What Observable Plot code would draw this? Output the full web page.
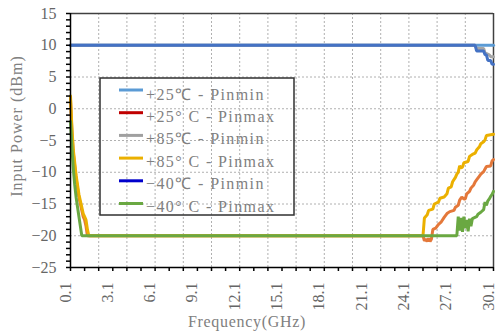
<!DOCTYPE html>
<html>
<head>
<meta charset="utf-8">
<script src="https://cdn.jsdelivr.net/npm/d3@7"></script>
<script src="https://cdn.jsdelivr.net/npm/@observablehq/plot@0.6"></script>
<style>
  body { margin: 0; background: #fff; }
  svg { display: block; }
</style>
</head>
<body>
<div id="chart"></div>
<script>
// Series names, in drawing order (later series are drawn on top)
const seriesNames = [
  "+25℃ - Pinmin",
  "+25° C - Pinmax",
  "+85℃ - Pinmin",
  "+85° C - Pinmax",
  "−40℃ - Pinmin",
  "−40° C - Pinmax"
];
// Line colours as plotted, and the colours shown in the legend keys
const lineColors   = ["#5b9bd5", "#e4783a", "#a5a5a5", "#ebb000", "#4472c4", "#6aa842"];
const legendColors = ["#5b9bd5", "#c00000", "#a0a0a0", "#ebb000", "#0000cc", "#6aa842"];

// Frequency (GHz) / input power (dBm) measurements per series
const pinmin25F = [0.1, 30.1];
const pinmin25V = [10, 10];

const pinmax25F = [0.1, 0.2, 0.3, 0.4, 0.5, 0.6, 0.7, 0.8, 0.9, 1.0, 1.1, 1.2, 1.3,
  25.1, 25.2, 25.3, 25.4, 25.5, 25.6, 25.7, 25.8, 26.0, 26.2, 26.4, 26.6, 26.8,
  27.0, 27.3, 27.4, 27.6, 27.7, 27.85, 28.0, 28.1, 28.2, 28.4, 28.5, 28.7, 28.8, 28.9, 29.1,
  29.2, 29.4, 29.5, 29.6, 29.9, 30.0, 30.1];
const pinmax25V = [1.5, -3.5, -7, -9, -11, -12.5, -14, -15, -16, -17, -17.5, -18.5, -20,
  -20, -20.8, -20.5, -20.9, -20.4, -20.9, -20.5, -19, -18.8, -18.2, -17.8, -17.1, -16.5,
  -16.2, -16, -15.5, -15.2, -14.4, -13.9, -14.2, -14.2, -13.4, -13, -12.5, -12, -11.5, -11.2, -10.6,
  -10.3, -9.9, -9.5, -9.1, -9, -8.2, -8];

const pinmin85F = [0.1, 28.8, 28.9, 29.4, 29.5, 29.8, 29.9, 30.1];
const pinmin85V = [10, 10, 9.5, 9.5, 8.8, 8.5, 8.2, 8.2];

const pinmax85F = [0.1, 0.2, 0.3, 0.4, 0.5, 0.6, 0.7, 0.8, 0.9, 1.0, 1.1, 1.2, 1.3, 1.4,
  25.1, 25.2, 25.4, 25.5, 25.8, 25.9, 26.2, 26.3, 26.6, 26.8, 26.9, 27.1, 27.2,
  27.4, 27.5, 27.6, 27.7, 27.8, 27.9, 28.0, 28.3, 28.4, 28.6, 28.8, 28.9, 29.1, 29.2, 29.4, 29.5,
  29.6, 30.1];
const pinmax85V = [2, -3, -6.5, -8.5, -10.5, -12, -13.5, -14.5, -15.5, -16.5, -17, -17.5, -19, -20,
  -20, -17.2, -16.7, -16, -15.8, -15, -14.7, -14.1, -13.9, -13.4, -12.5, -12.3, -11.5,
  -10.8, -10.3, -10, -9, -9.3, -9.2, -8.5, -8.3, -7.5, -7.2, -7, -6.5, -6, -5.5, -5.2, -4.9,
  -4.2, -4];

const pinminM40F = [0.1, 28.8, 28.9, 29.4, 29.5, 29.6, 29.7, 29.9, 30.0, 30.1];
const pinminM40V = [10, 10, 9.1, 9.1, 8.5, 8.5, 7.6, 7.6, 7.0, 7.0];

const pinmaxM40F = [0.1, 0.2, 0.3, 0.4, 0.5, 0.6, 0.7, 0.8, 0.9,
  27.5, 27.6, 27.7, 27.8, 27.9, 28.0, 28.1, 28.2, 28.3, 28.4, 28.5, 28.6, 28.9, 29.0, 29.2,
  29.4, 29.5, 29.6, 29.7, 29.8, 29.9, 30.0, 30.1];
const pinmaxM40V = [-2, -6, -9.5, -12, -14, -15.5, -17, -18.5, -20,
  -20, -17, -19.2, -17.2, -19.4, -17, -18.8, -17.5, -19.3, -17.3, -18.5, -17.3, -17, -16.6, -16.3,
  -15.9, -14.7, -15.2, -14.5, -14.2, -13.8, -13.5, -13];

// Axis ticks and labels
const xTickValues  = d3.range(0, 31).map(i => +(0.1 + i).toFixed(1));
const xLabelValues = d3.range(0, 11).map(i => +(0.1 + 3 * i).toFixed(1));
const xGridValues  = d3.range(1, 15).map(i => +(0.1 + 2 * i).toFixed(1));
const yTickValues  = d3.range(-25, 16);
const yLabelValues = d3.range(-25, 16, 5);
const yGridValues  = d3.range(-20, 15, 5);

const seriesData = [
  [pinmin25F, pinmin25V],
  [pinmax25F, pinmax25V],
  [pinmin85F, pinmin85V],
  [pinmax85F, pinmax85V],
  [pinminM40F, pinminM40V],
  [pinmaxM40F, pinmaxM40V]
].map(([f, v], i) => f.map((x, j) => ({series: seriesNames[i], f: x, v: v[j]})));

const font = "'Liberation Serif', serif";
const textColor = "#666";
const titleColor = "#808080";

const chart = Plot.plot({
  width: 502,
  height: 334,
  marginLeft: 70,
  marginRight: 9,
  marginTop: 13,
  marginBottom: 67,
  style: {fontFamily: font, fontSize: "16px", background: "#fff", overflow: "visible"},
  x: {domain: [0.1, 30.1], axis: null},
  y: {domain: [-25, 15], axis: null},
  marks: [
    // dotted gridlines
    Plot.ruleX(xGridValues, {stroke: "#b0b0b0", strokeDasharray: "2,2", strokeWidth: 1}),
    Plot.ruleY(yGridValues, {stroke: "#b0b0b0", strokeDasharray: "2,2", strokeWidth: 1}),
    // plot frame (top and right)
    Plot.ruleY([15], {stroke: "#404040", strokeWidth: 1.5}),
    Plot.ruleX([30.1], {stroke: "#404040", strokeWidth: 1.5}),
    // series lines
    ...seriesData.map((rows, i) =>
      Plot.line(rows, {x: "f", y: "v", stroke: lineColors[i], strokeWidth: 3, strokeLinejoin: "miter"})
    ),
    // axis lines
    Plot.ruleX([0.1], {stroke: "#000", strokeWidth: 1.5}),
    Plot.ruleY([-25], {stroke: "#000", strokeWidth: 1.5}),
    // ticks (labels drawn separately below)
    Plot.axisY(yTickValues, {anchor: "left", tickSize: 4, tickFormat: () => "", label: null, stroke: "#000", strokeWidth: 1.5}),
    Plot.axisX(xTickValues, {anchor: "bottom", tickSize: 4, tickFormat: () => "", label: null, stroke: "#000", strokeWidth: 1.5}),
    // tick labels
    Plot.text(yLabelValues, {
      y: d => d, frameAnchor: "left", dx: -14, textAnchor: "end",
      text: d => d < 0 ? "−" + Math.abs(d) : String(d),
      fill: textColor, fontSize: 16
    }),
    Plot.text(xLabelValues, {
      x: d => d, frameAnchor: "bottom", dy: 15, rotate: -90, textAnchor: "end",
      text: d => d.toFixed(1), fill: textColor, fontSize: 16
    })
  ]
});

const svg = d3.select(chart);

// axis titles
svg.append("text")
  .attr("transform", "translate(18,126) rotate(-90)")
  .attr("text-anchor", "middle").attr("dominant-baseline", "middle")
  .attr("fill", titleColor).attr("font-size", 16).attr("font-family", font)
  .attr("letter-spacing", 1)
  .text("Input Power (dBm)");
svg.append("text")
  .attr("x", 247).attr("y", 323)
  .attr("text-anchor", "middle").attr("dominant-baseline", "middle")
  .attr("fill", titleColor).attr("font-size", 16).attr("font-family", font)
  .attr("letter-spacing", 0.7)
  .text("Frequency(GHz)");

// legend
const legend = svg.append("g");
legend.append("rect")
  .attr("x", 100).attr("y", 78).attr("width", 194).attr("height", 137)
  .attr("fill", "none").attr("stroke", "#303030").attr("stroke-width", 1.5);
seriesNames.forEach((name, i) => {
  legend.append("line")
    .attr("x1", 119).attr("x2", 143)
    .attr("y1", 90 + i * 22.7).attr("y2", 90 + i * 22.7)
    .attr("stroke", legendColors[i]).attr("stroke-width", 3);
  legend.append("text")
    .attr("x", 146).attr("y", 96 + i * 22.4)
    .attr("text-anchor", "start")
    .attr("dominant-baseline", "middle")
    .attr("fill", titleColor).attr("font-size", 16).attr("font-family", font)
    .attr("letter-spacing", 1.4)
    .text(name);
});

document.getElementById("chart").appendChild(chart);
</script>
</body>
</html>
